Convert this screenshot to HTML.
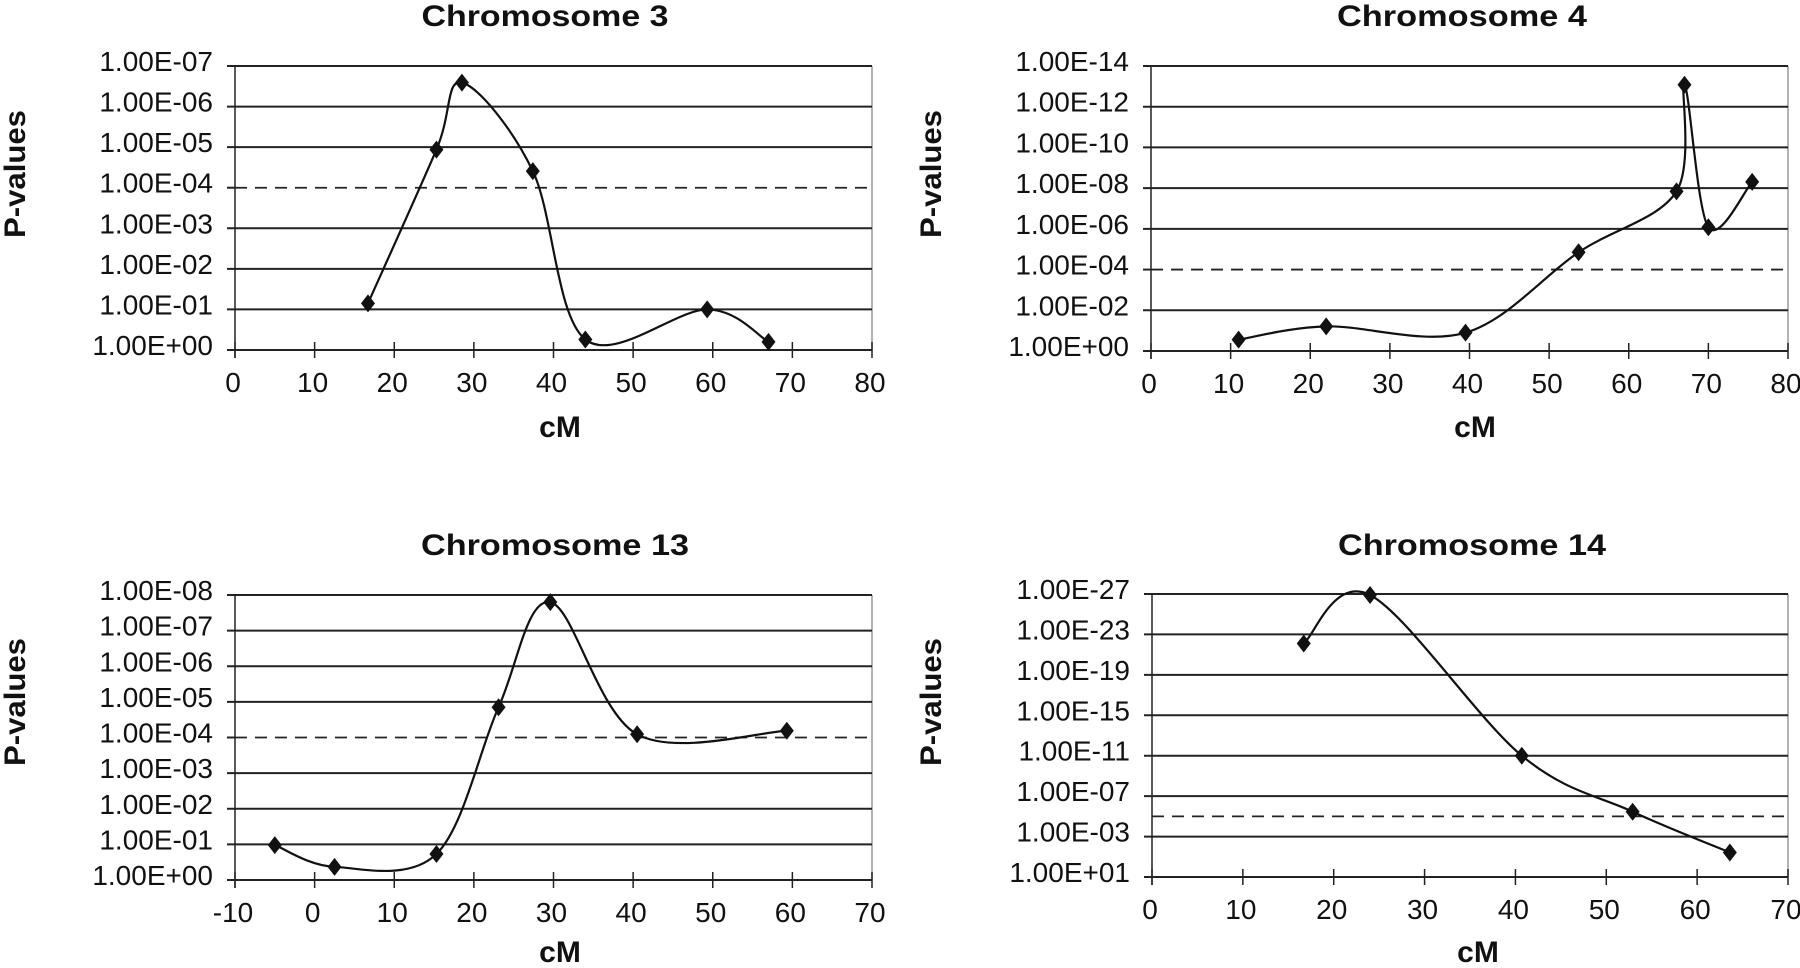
<!DOCTYPE html>
<html><head><meta charset="utf-8"><style>
html,body{margin:0;padding:0;background:#fff;}
svg{display:block;}
text{font-family:"Liberation Sans",Arial,sans-serif;fill:#111;}
</style></head><body>
<svg id="fig" width="1800" height="968" viewBox="0 0 1800 968" xmlns="http://www.w3.org/2000/svg"></svg>
<script>
// Chromosome 3 data (y = -log10 p)
const chr3X = [16.7, 25.3, 28.5, 37.4, 44.0, 59.3, 67.0];
const chr3Y = [1.15, 4.94, 6.59, 4.41, 0.26, 1.0, 0.2];
const chr3Ticks = ["1.00E+00","1.00E-01","1.00E-02","1.00E-03","1.00E-04","1.00E-05","1.00E-06","1.00E-07"];
const chr3XTicks = [0,10,20,30,40,50,60,70,80];
// Chromosome 4
const chr4X = [11.0, 22.0, 39.5, 53.7, 66.0, 67.0, 70.0, 75.5];
const chr4Y = [0.56, 1.21, 0.9, 4.85, 7.84, 13.08, 6.08, 8.31];
const chr4Ticks = ["1.00E+00","1.00E-02","1.00E-04","1.00E-06","1.00E-08","1.00E-10","1.00E-12","1.00E-14"];
const chr4XTicks = [0,10,20,30,40,50,60,70,80];
// Chromosome 13
const chr13X = [-5.0, 2.5, 15.3, 23.1, 29.6, 40.5, 59.3];
const chr13Y = [0.98, 0.37, 0.73, 4.85, 7.8, 4.09, 4.19];
const chr13Ticks = ["1.00E+00","1.00E-01","1.00E-02","1.00E-03","1.00E-04","1.00E-05","1.00E-06","1.00E-07","1.00E-08"];
const chr13XTicks = [-10,0,10,20,30,40,50,60,70];
// Chromosome 14
const chr14X = [16.7, 24.0, 40.7, 52.9, 63.6];
const chr14Y = [22.1, 26.9, 11.0, 5.46, 1.43];
const chr14Ticks = ["1.00E+01","1.00E-03","1.00E-07","1.00E-11","1.00E-15","1.00E-19","1.00E-23","1.00E-27"];
const chr14XTicks = [0,10,20,30,40,50,60,70];

const NS = "http://www.w3.org/2000/svg";
const fig = document.getElementById('fig');
function mk(tag, attrs, parent){
  const e = document.createElementNS(NS, tag);
  for (const k in attrs) e.setAttribute(k, attrs[k]);
  (parent||fig).appendChild(e);
  return e;
}
function txt(parent, s, attrs){ const t = mk('text', attrs, parent); t.textContent = s; return t; }

function chart(cfg){
  const g = mk('g', {});
  
  
  const L=cfg.left, R=cfg.right, T=cfg.top, B=cfg.bottom;
  const xs = v => L + (v - cfg.xmin) / (cfg.xmax - cfg.xmin) * (R - L);
  const ys = v => B - (v - cfg.ymin) / (cfg.ymax - cfg.ymin) * (B - T);
  const rb = mk('line', {x1:R, y1:T, x2:R, y2:B, stroke:'#999', 'stroke-width':1.5}, g);
  
  
  cfg.ticks.forEach((lab, i) => {
    const v = cfg.ymin + i * cfg.ystep;
    const y = ys(v);
    if (Math.abs(v - cfg.thresh) > 1e-9) {
      const gl = mk('line', {x1:L-8, y1:y, x2:R, y2:y, stroke:'#222', 'stroke-width':2}, g);
      
      
    } else {
      const tk = mk('line', {x1:L-8, y1:y, x2:L, y2:y, stroke:'#222', 'stroke-width':2}, g);
      
      
    }
    const t = txt(g, lab, {x:L-22, y:y+5, 'text-anchor':'end', 'font-size':28});
    
    
  });
  const dy = ys(cfg.thresh);
  const dl = mk('line', {x1:L, y1:dy, x2:R, y2:dy, stroke:'#222', 'stroke-width':1.8, 'stroke-dasharray':'12 8'}, g);
  
  
  const ya = mk('line', {x1:L, y1:T, x2:L, y2:B+8, stroke:'#222', 'stroke-width':1.5}, g);
  
  
  cfg.xticks.forEach(v => {
    const x = xs(v);
    const tk = mk('line', {x1:x, y1:B-8, x2:x, y2:B+8, stroke:'#222', 'stroke-width':1.5}, g);
    
    
    const t = txt(g, String(v), {x:x-2, y:B+42, 'text-anchor':'middle', 'font-size':28});
    
    
  });
  const P = cfg.xv.map((x, i) => [xs(x), ys(cfg.yv[i])]);
  let d = 'M' + P[0][0] + ' ' + P[0][1];
  for (let i = 0; i < P.length - 1; i++) {
    const p0 = P[Math.max(0, i-1)], p1 = P[i], p2 = P[i+1], p3 = P[Math.min(P.length-1, i+2)];
    const c1 = [p1[0] + (p2[0]-p0[0])/6, p1[1] + (p2[1]-p0[1])/6];
    const c2 = [p2[0] - (p3[0]-p1[0])/6, p2[1] - (p3[1]-p1[1])/6];
    d += ' C' + c1[0] + ' ' + c1[1] + ' ' + c2[0] + ' ' + c2[1] + ' ' + p2[0] + ' ' + p2[1];
  }
  const path = mk('path', {d:d, fill:'none', stroke:'#111', 'stroke-width':2.2}, g);
  
  
  P.forEach(p => {
    const m = mk('polygon', {points:`${p[0]},${p[1]-9} ${p[0]+7},${p[1]} ${p[0]},${p[1]+9} ${p[0]-7},${p[1]}`, fill:'#111'}, g);
    
    
  });
  const tt = txt(g, cfg.title, {x:cfg.titleX, y:cfg.titleY, 'text-anchor':'middle', 'font-size':30, 'font-weight':'bold', textLength:cfg.titleW, lengthAdjust:'spacingAndGlyphs'});
  
  
  const xt = txt(g, 'cM', {x:cfg.cmX, y:cfg.cmY, 'text-anchor':'middle', 'font-size':30, 'font-weight':'bold'});
  
  
  const yt = txt(g, 'P-values', {x:0, y:0, 'text-anchor':'middle', 'font-size':30, 'font-weight':'bold', textLength:128, lengthAdjust:'spacingAndGlyphs', transform:`translate(${cfg.pvX},${cfg.pvY}) rotate(-90)`});
  
  
}

chart({name:'chromosome-3-chart', left:235, right:872, top:66, bottom:350, xmin:0, xmax:80, ymin:0, ymax:7, ystep:1,
  ticks:chr3Ticks, xticks:chr3XTicks, xv:chr3X, yv:chr3Y, thresh:4,
  title:'Chromosome 3', titleX:545, titleY:26, titleW:247, cmX:560, cmY:437, pvX:25, pvY:174});
chart({name:'chromosome-4-chart', left:1151, right:1788, top:66, bottom:351, xmin:0, xmax:80, ymin:0, ymax:14, ystep:2,
  ticks:chr4Ticks, xticks:chr4XTicks, xv:chr4X, yv:chr4Y, thresh:4,
  title:'Chromosome 4', titleX:1462, titleY:26, titleW:250, cmX:1475, cmY:437, pvX:941, pvY:174});
chart({name:'chromosome-13-chart', left:235, right:872, top:595, bottom:880, xmin:-10, xmax:70, ymin:0, ymax:8, ystep:1,
  ticks:chr13Ticks, xticks:chr13XTicks, xv:chr13X, yv:chr13Y, thresh:4,
  title:'Chromosome 13', titleX:555, titleY:555, titleW:268, cmX:560, cmY:962, pvX:25, pvY:702});
chart({name:'chromosome-14-chart', left:1152, right:1788, top:594, bottom:877, xmin:0, xmax:70, ymin:-1, ymax:27, ystep:4,
  ticks:chr14Ticks, xticks:chr14XTicks, xv:chr14X, yv:chr14Y, thresh:5,
  title:'Chromosome 14', titleX:1472, titleY:555, titleW:268, cmX:1478, cmY:962, pvX:941, pvY:702});
</script>
</body></html>
